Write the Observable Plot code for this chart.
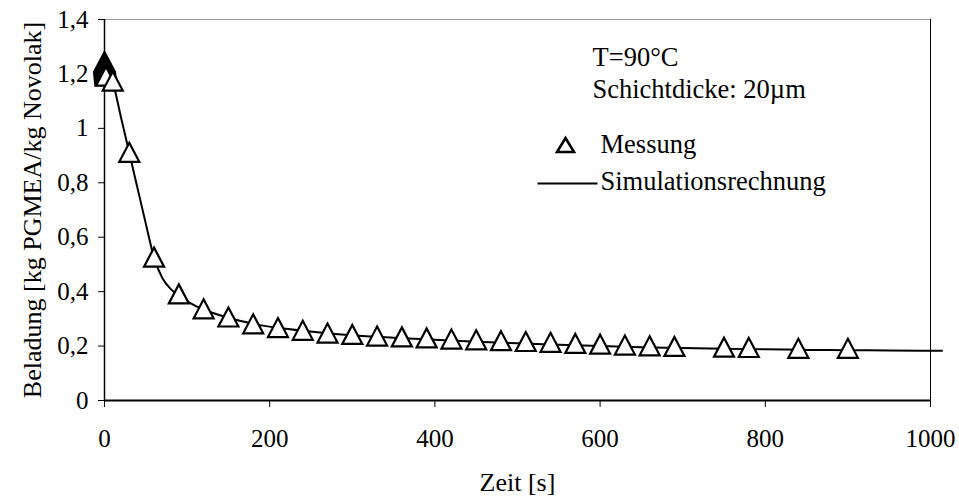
<!DOCTYPE html>
<html><head><meta charset="utf-8">
<script src="https://cdn.jsdelivr.net/npm/d3@7"></script>
<script src="https://cdn.jsdelivr.net/npm/@observablehq/plot@0.6"></script>
<style>
html,body{margin:0;padding:0;background:#fff}
svg{display:block}
svg, svg text{font-family:"Liberation Serif","Times New Roman",Times,serif !important;}
</style>
</head><body><div id="chart"></div>
<script>
// Measured data (Messung) – many overlapping readings near t = 0
const messZeit = [0,0.1,0.2,0.3,0.4,0.5,0.6,0.7,0.8,0.9,1,1.1,1.2,1.3,1.4,1.5,1.6,1.7,1.8,10,30,60,90,120,150,180,210,240,270,300,330,360,390,420,450,480,510,540,570,600,630,660,690,750,780,840,900];
const messBeladung = [1.243,1.24,1.237,1.234,1.231,1.228,1.225,1.222,1.219,1.216,1.213,1.21,1.207,1.204,1.201,1.198,1.195,1.192,1.19,1.172,0.91,0.525,0.39,0.335,0.305,0.28,0.266,0.256,0.246,0.241,0.235,0.232,0.228,0.224,0.221,0.218,0.215,0.212,0.208,0.205,0.202,0.199,0.197,0.194,0.193,0.19,0.19];
// Simulation (Simulationsrechnung)
const simZeit = [0,10,20,30,40,50,60,70,80,90,100,110,120,135,150,165,180,210,240,270,300,350,400,450,500,550,600,650,700,750,800,850,900,950,1000,1014];
const simBeladung = [1.235,1.17,1.04,0.91,0.78,0.65,0.525,0.45,0.41,0.385,0.365,0.348,0.335,0.318,0.304,0.292,0.282,0.267,0.256,0.247,0.24,0.231,0.223,0.216,0.21,0.205,0.2,0.196,0.193,0.19,0.188,0.186,0.185,0.184,0.183,0.183];
const xTicks = [0,200,400,600,800,1000];
const yTicks = [0,0.2,0.4,0.6,0.8,1,1.2,1.4];
const xLabel = "Zeit [s]";
const yLabel = "Beladung [kg PGMEA/kg Novolak]";
const infoLines = ["T=90°C", "Schichtdicke: 20µm"];
const legendLabels = ["Messung", "Simulationsrechnung"];

const mess = messZeit.map((t, i) => ({t, v: messBeladung[i]}));
const sim = simZeit.map((t, i) => ({t, v: simBeladung[i]}));
const fmt = d => String(d).replace(".", ",");

const triangle = {draw(ctx) { ctx.moveTo(0, -10); ctx.lineTo(10, 9); ctx.lineTo(-10, 9); ctx.closePath(); }};
const legendTriangle = {draw(ctx) { ctx.moveTo(0, -7.5); ctx.lineTo(8.5, 6.5); ctx.lineTo(-8.5, 6.5); ctx.closePath(); }};
const legendLine = {draw(ctx) { ctx.moveTo(-30, 0); ctx.lineTo(30, 0); }};

const font = "Liberation Serif";

const chart = Plot.plot({
  width: 959, height: 499,
  marginTop: 19, marginBottom: 99, marginLeft: 104, marginRight: 29,
  style: {fontFamily: font, fontSize: "25px", color: "#000", background: "#fff", overflow: "visible"},
  x: {domain: [0, 1000]},
  y: {domain: [0, 1.4]},
  marks: [
    Plot.axisX({ticks: xTicks, tickFormat: fmt, tickSize: 7, tickPadding: 22, label: null, fontSize: 25, fontFamily: font}),
    Plot.axisY({ticks: yTicks, tickFormat: fmt, tickSize: 6, tickPadding: 10, label: null, fontSize: 25, fontFamily: font}),
    Plot.ruleY([1.4], {stroke: "#9a9a9a", strokeWidth: 1}),
    Plot.ruleX([1000], {stroke: "#000", strokeWidth: 1}),
    Plot.ruleX([0], {stroke: "#000", strokeWidth: 1.5}),
    Plot.ruleY([0], {stroke: "#000", strokeWidth: 2}),
    Plot.line(sim, {x: "t", y: "v", curve: "monotone-x", stroke: "#000", strokeWidth: 2}),
    Plot.dot(mess, {x: "t", y: "v", symbol: triangle, fill: "#fff", stroke: "#000", strokeWidth: 2.2}),
    Plot.text([xLabel], {frameAnchor: "bottom", dy: 82, lineAnchor: "middle", fontSize: 26, fontFamily: font}),
    Plot.text([yLabel], {frameAnchor: "left", rotate: -90, dx: -72, lineAnchor: "middle", textAnchor: "middle", fontSize: 26, fontFamily: font}),
    Plot.text([infoLines[0]], {frameAnchor: "top-left", dx: 488, dy: 38, textAnchor: "start", lineAnchor: "middle", fontSize: 26.5, fontFamily: font}),
    Plot.text([infoLines[1]], {frameAnchor: "top-left", dx: 488, dy: 70, textAnchor: "start", lineAnchor: "middle", fontSize: 26.5, fontFamily: font}),
    Plot.dot([legendLabels[0]], {frameAnchor: "top-left", dx: 461, dy: 126, symbol: legendTriangle, fill: "#fff", stroke: "#000", strokeWidth: 2.6}),
    Plot.text([legendLabels[0]], {frameAnchor: "top-left", dx: 496, dy: 125, textAnchor: "start", lineAnchor: "middle", fontSize: 26.5, fontFamily: font}),
    Plot.dot([legendLabels[1]], {frameAnchor: "top-left", dx: 463, dy: 164, symbol: legendLine, fill: "none", stroke: "#000", strokeWidth: 2}),
    Plot.text([legendLabels[1]], {frameAnchor: "top-left", dx: 496, dy: 162, textAnchor: "start", lineAnchor: "middle", fontSize: 26.5, fontFamily: font})
  ]
});
document.getElementById("chart").append(chart);
</script>
</body></html>
